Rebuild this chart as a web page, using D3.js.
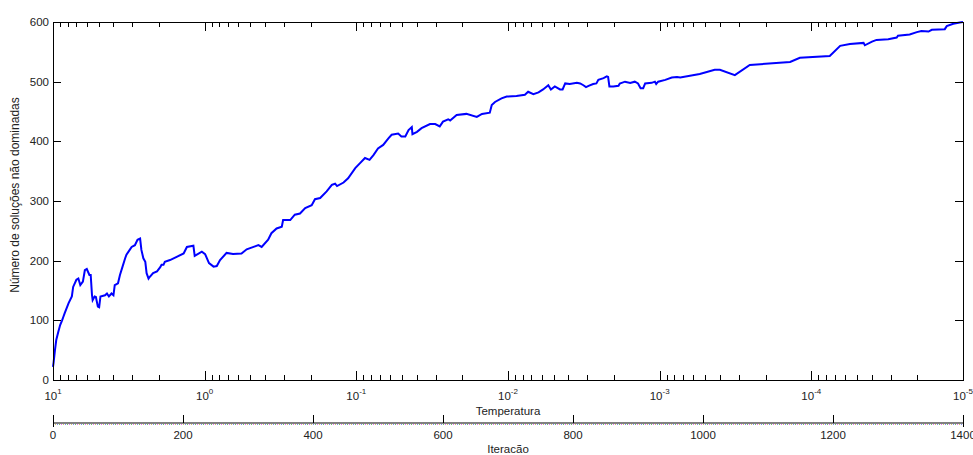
<!DOCTYPE html>
<html>
<head>
<meta charset="utf-8">
<script src="https://cdn.jsdelivr.net/npm/d3@7"></script>
<style>
  body { margin: 0; background: #fff; }
  svg { display: block; font-family: "Liberation Sans", Arial, sans-serif; }
</style>
</head>
<body>
<div id="main"></div>
<script>
// iteration number and count of non-dominated solutions at that iteration
const iteracao = [
  0, 1, 3, 5, 8, 11, 14, 16, 18, 24, 29, 31, 36, 39, 42, 46, 49, 52, 56, 58,
  60, 61, 64, 66, 69, 71, 73, 80, 83, 86, 90, 93, 95, 100, 103, 107, 111, 113,
  118, 121, 126, 130, 134, 136, 139, 142, 144, 147, 149, 154, 160, 165, 167,
  170, 172, 180, 201, 206, 216, 218, 229, 234, 240, 247, 252, 257, 267, 277,
  290, 298, 316, 321, 331, 336, 344, 352, 354, 365, 372, 380, 388, 398, 403,
  411, 421, 429, 434, 437, 447, 454, 465, 472, 480, 487, 493, 500, 508, 516,
  521, 531, 536, 542, 547, 552, 553, 560, 567, 580, 588, 595, 600, 608, 611,
  621, 636, 652, 660, 672, 675, 680, 690, 698, 713, 726, 731, 739, 747, 754,
  762, 766, 772, 780, 784, 788, 795, 806, 811, 816, 820, 824, 831, 836, 839,
  847, 852, 854, 856, 862, 870, 872, 880, 888, 895, 900, 904, 908, 911, 921,
  926, 928, 931, 942, 952, 960, 965, 995, 1018, 1026, 1049, 1072, 1134, 1149,
  1195, 1211, 1226, 1247, 1249, 1260, 1267, 1285, 1298, 1300, 1318, 1329,
  1336, 1347, 1352, 1372, 1375, 1385, 1395, 1400
];
const solucoes = [
  22, 30, 50, 67, 80, 92, 100, 106, 112, 129, 140, 156, 168, 170, 159, 165,
  184, 186, 176, 176, 142, 134, 140, 139, 123, 122, 140, 142, 145, 140, 145,
  142, 159, 162, 176, 190, 204, 210, 218, 223, 226, 235, 237, 218, 204, 198,
  179, 170, 173, 179, 182, 189, 193, 193, 198, 201, 212, 223, 225, 208, 215,
  211, 196, 190, 191, 201, 213, 211, 212, 219, 226, 223, 235, 246, 254, 257,
  268, 268, 277, 279, 288, 293, 303, 305, 316, 327, 329, 325, 331, 338, 355,
  363, 372, 369, 377, 388, 394, 405, 411, 413, 408, 408, 419, 424, 412, 416,
  422, 429, 429, 425, 433, 437, 435, 444, 446, 441, 446, 448, 461, 466, 472,
  475, 476, 478, 483, 479, 482, 487, 494, 487, 492, 487, 487, 497, 496, 498,
  497, 494, 491, 493, 496, 497, 503, 506, 509, 508, 492, 492, 493, 497, 500,
  498, 500, 497, 489, 489, 497, 498, 500, 496, 500, 503, 507, 508, 507, 513,
  520, 520, 511, 528, 533, 540, 543, 560, 563, 565, 561, 567, 570, 571, 574,
  577, 579, 583, 585, 584, 587, 588, 593, 597, 599, 600
];

const yTicks = [0, 100, 200, 300, 400, 500, 600];
const tempMajor = [1, 0, -1, -2, -3, -4, -5];   // exponents of 10
const iterTicks = [0, 200, 400, 600, 800, 1000, 1200, 1400];

const width = 973;
const height = 455;
const plotL = 53, plotR = 963, plotT = 22, plotB = 380;
const iterAxisY = 423;

const svg = d3.select("#main")
  .append("svg")
  .attr("width", width)
  .attr("height", height);

const xIter = d3.scaleLinear().domain([0, 1400]).range([plotL, plotR]);
const xTemp = d3.scaleLog().domain([10, 1e-5]).range([plotL, plotR]);
const y = d3.scaleLinear().domain([0, 600]).range([plotB, plotT]);

// minor ticks of the log axis: 2..9 x 10^k
const tempMinor = [];
tempMajor.slice(1).forEach(e => {
  for (let m = 2; m <= 9; m++) tempMinor.push(m * Math.pow(10, e));
});

// curve
const line = d3.line()
  .x((d, i) => xIter(iteracao[i]))
  .y(d => y(d));

svg.append("path")
  .datum(solucoes)
  .attr("d", line)
  .attr("fill", "none")
  .attr("stroke", "#0000ff")
  .attr("stroke-width", 2)
  .attr("stroke-linejoin", "miter");

// axes box
const box = svg.append("g").attr("stroke", "#000").attr("stroke-width", 1);
box.append("rect")
  .attr("x", plotL + 0.5)
  .attr("y", plotT + 0.5)
  .attr("width", plotR - plotL)
  .attr("height", plotB - plotT)
  .attr("fill", "none");

// y ticks, both sides pointing inward
yTicks.forEach(v => {
  const py = Math.round(y(v)) + 0.5;
  box.append("line").attr("x1", plotL).attr("x2", plotL + 8).attr("y1", py).attr("y2", py);
  box.append("line").attr("x1", plotR - 8).attr("x2", plotR).attr("y1", py).attr("y2", py);
});

svg.append("g")
  .selectAll("text")
  .data(yTicks)
  .enter()
  .append("text")
  .attr("x", plotL - 4)
  .attr("y", d => y(d) + 4)
  .attr("text-anchor", "end")
  .attr("font-size", 11.5)
  .attr("fill", "#222")
  .text(d => d);

// log ticks top and bottom
tempMajor.forEach(e => {
  const px = Math.round(xTemp(Math.pow(10, e))) + 0.5;
  box.append("line").attr("x1", px).attr("x2", px).attr("y1", plotB).attr("y2", plotB - 9);
  box.append("line").attr("x1", px).attr("x2", px).attr("y1", plotT).attr("y2", plotT + 9);
});
tempMinor.forEach(v => {
  const px = Math.round(xTemp(v)) + 0.5;
  box.append("line").attr("x1", px).attr("x2", px).attr("y1", plotB).attr("y2", plotB - 5);
  box.append("line").attr("x1", px).attr("x2", px).attr("y1", plotT).attr("y2", plotT + 5);
});

const tempLabels = svg.append("g")
  .selectAll("text")
  .data(tempMajor)
  .enter()
  .append("text")
  .attr("x", d => xTemp(Math.pow(10, d)))
  .attr("y", 400)
  .attr("text-anchor", "middle")
  .attr("font-size", 11.5)
  .attr("fill", "#222");
tempLabels.append("tspan").text("10");
tempLabels.append("tspan")
  .attr("dy", -6)
  .attr("font-size", 8)
  .text(d => d);

svg.append("text")
  .attr("x", (plotL + plotR) / 2)
  .attr("y", 415)
  .attr("text-anchor", "middle")
  .attr("font-size", 11.5)
  .attr("fill", "#222")
  .text("Temperatura");

// iteration axis (flat secondary axes)
const iterG = svg.append("g");
iterG.append("line")
  .attr("x1", plotL).attr("x2", plotR)
  .attr("y1", iterAxisY).attr("y2", iterAxisY)
  .attr("stroke", "#808080")
  .attr("stroke-width", 2);
["#f070f0", "#70c070", "#8090f0", "#d0c070"].forEach((c, i) => {
  iterG.append("line")
    .attr("x1", plotL).attr("x2", plotR)
    .attr("y1", iterAxisY + 1.5).attr("y2", iterAxisY + 1.5)
    .attr("stroke", c)
    .attr("stroke-width", 1)
    .attr("stroke-dasharray", "1,7")
    .attr("stroke-dashoffset", i * 2);
});
iterTicks.forEach((v, i) => {
  const px = Math.round(xIter(v)) + 0.5;
  const end = (i === 0 || i === iterTicks.length - 1);
  iterG.append("line")
    .attr("x1", px).attr("x2", px)
    .attr("y1", 415).attr("y2", end ? 427 : iterAxisY)
    .attr("stroke", "#000");
});
iterG.selectAll("text")
  .data(iterTicks)
  .enter()
  .append("text")
  .attr("x", d => xIter(d))
  .attr("y", 439)
  .attr("text-anchor", "middle")
  .attr("font-size", 11.5)
  .attr("fill", "#222")
  .text(d => d);

svg.append("text")
  .attr("x", (plotL + plotR) / 2)
  .attr("y", 453)
  .attr("text-anchor", "middle")
  .attr("font-size", 11.5)
  .attr("fill", "#222")
  .text("Iteracão");

svg.append("text")
  .attr("transform", "translate(19,195) rotate(-90)")
  .attr("text-anchor", "middle")
  .attr("font-size", 12)
  .attr("fill", "#222")
  .text("Número de soluções não dominadas");
</script>
</body>
</html>
